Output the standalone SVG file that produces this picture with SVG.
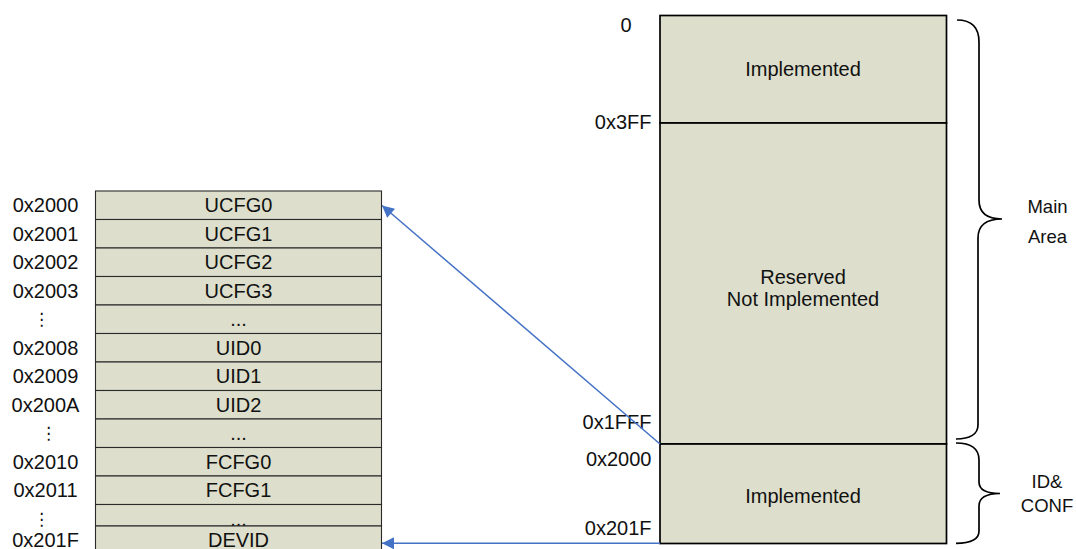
<svg xmlns="http://www.w3.org/2000/svg" width="1076" height="549" viewBox="0 0 1076 549">
<style>
.t{font-family:"Liberation Sans",Arial,sans-serif;font-size:20px;fill:#111;}
.b{font-family:"Liberation Sans",Arial,sans-serif;font-size:18.5px;fill:#111;}
.m{text-anchor:middle;}
.e{text-anchor:end;}
.v{font-family:"DejaVu Sans",sans-serif;font-size:17px;fill:#111;text-anchor:middle;}
.cell{fill:#DDDFCC;stroke:#2a2a2a;stroke-width:1.1;}
.blk{fill:#DDDFCC;stroke:#000;stroke-width:1.7;}
.brace{fill:none;stroke:#000;stroke-width:1.7;}
.conn{fill:none;stroke:#4472C4;stroke-width:1.5;}
</style>
<defs>
<marker id="ah" viewBox="0 0 10 10" refX="10" refY="5" markerWidth="15" markerHeight="12" markerUnits="userSpaceOnUse" orient="auto">
<path d="M0,0 L10,5 L0,10 z" fill="#4472C4"/>
</marker>
</defs>

<g id="table">
<g id="r-ucfg0"><rect class="cell" x="95.5" y="191" width="286" height="28.5"/><text class="t m" x="238.5" y="212.2">UCFG0</text><text class="t m" x="45.5" y="212.2">0x2000</text></g>
<g id="r-ucfg1"><rect class="cell" x="95.5" y="219.5" width="286" height="28.5"/><text class="t m" x="238.5" y="240.7">UCFG1</text><text class="t m" x="45.5" y="240.7">0x2001</text></g>
<g id="r-ucfg2"><rect class="cell" x="95.5" y="248" width="286" height="28.5"/><text class="t m" x="238.5" y="269.2">UCFG2</text><text class="t m" x="45.5" y="269.2">0x2002</text></g>
<g id="r-ucfg3"><rect class="cell" x="95.5" y="276.5" width="286" height="28.5"/><text class="t m" x="238.5" y="297.7">UCFG3</text><text class="t m" x="45.5" y="297.7">0x2003</text></g>
<g id="r-gap1"><rect class="cell" x="95.5" y="305" width="286" height="28.5"/><text class="t m" x="238.5" y="326">...</text><text class="v" x="41.5" y="325">⋮</text></g>
<g id="r-uid0"><rect class="cell" x="95.5" y="333.5" width="286" height="28.5"/><text class="t m" x="238.5" y="354.7">UID0</text><text class="t m" x="45.5" y="354.7">0x2008</text></g>
<g id="r-uid1"><rect class="cell" x="95.5" y="362" width="286" height="28.5"/><text class="t m" x="238.5" y="383.2">UID1</text><text class="t m" x="45.5" y="383.2">0x2009</text></g>
<g id="r-uid2"><rect class="cell" x="95.5" y="390.5" width="286" height="28.5"/><text class="t m" x="238.5" y="411.7">UID2</text><text class="t m" x="45.5" y="411.7">0x200A</text></g>
<g id="r-gap2"><rect class="cell" x="95.5" y="419" width="286" height="28.5"/><text class="t m" x="238.5" y="440">...</text><text class="v" x="48.5" y="439">⋮</text></g>
<g id="r-fcfg0"><rect class="cell" x="95.5" y="447.5" width="286" height="28.5"/><text class="t m" x="238.5" y="468.7">FCFG0</text><text class="t m" x="45.5" y="468.7">0x2010</text></g>
<g id="r-fcfg1"><rect class="cell" x="95.5" y="476" width="286" height="28.5"/><text class="t m" x="238.5" y="497.2">FCFG1</text><text class="t m" x="45.5" y="497.2">0x2011</text></g>
<g id="r-gap3"><rect class="cell" x="95.5" y="504.5" width="286" height="21.5"/><text class="t m" x="238.5" y="525.5">...</text><text class="v" x="41.5" y="525">⋮</text></g>
<g id="r-devid"><rect class="cell" x="95.5" y="526" width="286" height="30"/><text class="t m" x="238.5" y="546.5">DEVID</text><text class="t m" x="45.5" y="546.5">0x201F</text></g>
</g>

<g id="memory">
<g id="m-impl"><rect class="blk" x="660" y="15.5" width="286.5" height="107.5"/><text class="t m" x="803" y="76">Implemented</text></g>
<g id="m-res"><rect class="blk" x="660" y="123" width="286.5" height="321"/><text class="t m" x="803" y="284">Reserved</text><text class="t m" x="803" y="306">Not Implemented</text></g>
<g id="m-idconf"><rect class="blk" x="660" y="444" width="286.5" height="99.5"/><text class="t m" x="803" y="503">Implemented</text></g>
<text class="t m" x="626" y="32">0</text>
<text class="t e" x="651.5" y="128.5">0x3FF</text>
<text class="t e" x="651.5" y="428.5">0x1FFF</text>
<text class="t e" x="651.5" y="465.7">0x2000</text>
<text class="t e" x="651.5" y="535">0x201F</text>
</g>

<g id="brace-main">
<path class="brace" d="M957,20 C972,20 979,27 979,42 L979,200 C979,212 986,219 1002,219 C986,219 978,226 978,238 L978,425 C978,434 970,439 956,439"/>
<text class="b m" x="1047.5" y="213">Main</text>
<text class="b m" x="1047.5" y="243">Area</text>
</g>
<g id="brace-idconf">
<path class="brace" d="M956,443 C972,443 979,449 979,460 L979,482 C979,489 986,493.5 1000,493.5 C986,493.5 979,498 979,506 L979,531 C979,539 972,543.3 956,543.3"/>
<text class="b m" x="1047" y="488">ID&amp;</text>
<text class="b m" x="1047" y="511.5">CONF</text>
</g>

<g id="connectors">
<line class="conn" x1="660" y1="444" x2="382" y2="205.5" marker-end="url(#ah)"/>
<line class="conn" x1="660" y1="543.3" x2="382" y2="543.3" marker-end="url(#ah)"/>
</g>
</svg>
